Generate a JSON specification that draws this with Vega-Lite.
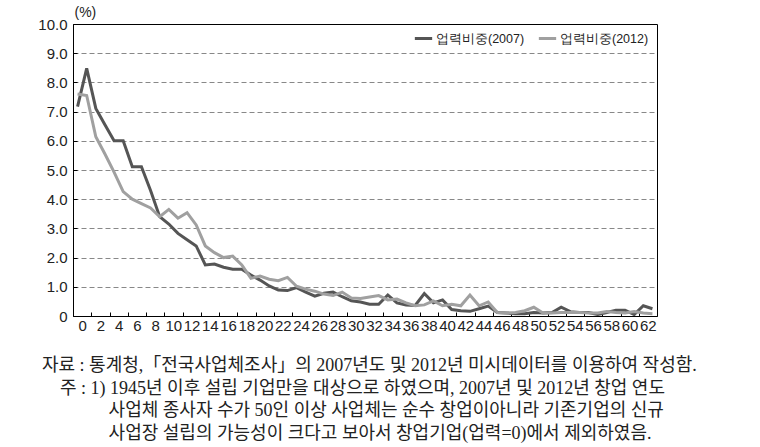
{
  "$schema": "https://vega.github.io/schema/vega-lite/v6.json",
  "autosize": "none",
  "width": 584,
  "height": 292,
  "padding": {"left": 73, "top": 24, "right": 103, "bottom": 131},
  "background": "white",
  "config": {
    "view": {"stroke": "#000", "strokeWidth": 1},
    "font": "Liberation Sans"
  },
  "title": {
    "text": [
      "자료 : 통계청,「전국사업체조사」의 2007년도 및 2012년 미시데이터를 이용하여 작성함.",
      "\u200b\u2003주 : 1) 1945년 이후 설립 기업만을 대상으로 하였으며, 2007년 및 2012년 창업 연도",
      "\u200b\u2003\u2003\u2003\u2002\u2009사업체 종사자 수가 50인 이상 사업체는 순수 창업이아니라 기존기업의 신규",
      "\u200b\u2003\u2003\u2003\u2002\u2009사업장 설립의 가능성이 크다고 보아서 창업기업(업력=0)에서 제외하였음."
    ],
    "orient": "bottom",
    "anchor": "start",
    "frame": "group",
    "dx": -31,
    "offset": 24,
    "font": "Liberation Serif, Noto Sans CJK KR",
    "fontSize": 18,
    "fontWeight": "normal",
    "color": "#222",
    "lineHeight": 22.5,
    "baseline": "top"
  },
  "data": {
    "values": [
      {"age": 0, "2007": 7.17, "2012": 7.6},
      {"age": 1, "2007": 8.48, "2012": 7.55},
      {"age": 2, "2007": 7.11, "2012": 6.14},
      {"age": 3, "2007": 6.55, "2012": 5.55},
      {"age": 4, "2007": 6.0, "2012": 4.93},
      {"age": 5, "2007": 6.0, "2012": 4.26},
      {"age": 6, "2007": 5.11, "2012": 4.0},
      {"age": 7, "2007": 5.11, "2012": 3.85},
      {"age": 8, "2007": 4.3, "2012": 3.7},
      {"age": 9, "2007": 3.4, "2012": 3.4},
      {"age": 10, "2007": 3.15, "2012": 3.65},
      {"age": 11, "2007": 2.83, "2012": 3.35},
      {"age": 12, "2007": 2.61, "2012": 3.54},
      {"age": 13, "2007": 2.4, "2012": 3.12},
      {"age": 14, "2007": 1.75, "2012": 2.4},
      {"age": 15, "2007": 1.78, "2012": 2.17},
      {"age": 16, "2007": 1.67, "2012": 2.0},
      {"age": 17, "2007": 1.6, "2012": 2.05},
      {"age": 18, "2007": 1.6, "2012": 1.75},
      {"age": 19, "2007": 1.4, "2012": 1.29},
      {"age": 20, "2007": 1.23, "2012": 1.37},
      {"age": 21, "2007": 1.03, "2012": 1.26},
      {"age": 22, "2007": 0.89, "2012": 1.21},
      {"age": 23, "2007": 0.87, "2012": 1.32},
      {"age": 24, "2007": 0.97, "2012": 1.02},
      {"age": 25, "2007": 0.82, "2012": 0.92},
      {"age": 26, "2007": 0.68, "2012": 0.85},
      {"age": 27, "2007": 0.78, "2012": 0.75},
      {"age": 28, "2007": 0.82, "2012": 0.7},
      {"age": 29, "2007": 0.66, "2012": 0.82},
      {"age": 30, "2007": 0.52, "2012": 0.62},
      {"age": 31, "2007": 0.48, "2012": 0.6},
      {"age": 32, "2007": 0.4, "2012": 0.65},
      {"age": 33, "2007": 0.4, "2012": 0.7},
      {"age": 34, "2007": 0.72, "2012": 0.55},
      {"age": 35, "2007": 0.45, "2012": 0.58},
      {"age": 36, "2007": 0.38, "2012": 0.45},
      {"age": 37, "2007": 0.36, "2012": 0.35},
      {"age": 38, "2007": 0.77, "2012": 0.38},
      {"age": 39, "2007": 0.45, "2012": 0.52},
      {"age": 40, "2007": 0.55, "2012": 0.35},
      {"age": 41, "2007": 0.22, "2012": 0.4},
      {"age": 42, "2007": 0.18, "2012": 0.35},
      {"age": 43, "2007": 0.16, "2012": 0.72},
      {"age": 44, "2007": 0.25, "2012": 0.35},
      {"age": 45, "2007": 0.34, "2012": 0.48},
      {"age": 46, "2007": 0.12, "2012": 0.12},
      {"age": 47, "2007": 0.1, "2012": 0.1},
      {"age": 48, "2007": 0.08, "2012": 0.12},
      {"age": 49, "2007": 0.08, "2012": 0.18},
      {"age": 50, "2007": 0.12, "2012": 0.3},
      {"age": 51, "2007": 0.1, "2012": 0.1},
      {"age": 52, "2007": 0.12, "2012": 0.1},
      {"age": 53, "2007": 0.3, "2012": 0.12},
      {"age": 54, "2007": 0.15, "2012": 0.12},
      {"age": 55, "2007": 0.12, "2012": 0.12},
      {"age": 56, "2007": 0.12, "2012": 0.1},
      {"age": 57, "2007": 0.05, "2012": 0.1},
      {"age": 58, "2007": 0.12, "2012": 0.15},
      {"age": 59, "2007": 0.2, "2012": 0.12},
      {"age": 60, "2007": 0.2, "2012": 0.1},
      {"age": 61, "2007": 0.05, "2012": 0.15},
      {"age": 62, "2007": 0.35, "2012": 0.1},
      {"age": 63, "2007": 0.25, "2012": 0.08}
    ]
  },
  "transform": [{"fold": ["2007", "2012"], "as": ["series", "share"]}],
  "mark": {"type": "line", "strokeWidth": 3, "strokeJoin": "miter", "clip": true},
  "encoding": {
    "x": {
      "field": "age",
      "type": "quantitative",
      "scale": {"domain": [-0.5, 63.5], "nice": false, "zero": false},
      "axis": {
        "title": null,
        "values": [0.5,1.5,2.5,3.5,4.5,5.5,6.5,7.5,8.5,9.5,10.5,11.5,12.5,13.5,14.5,15.5,16.5,17.5,18.5,19.5,20.5,21.5,22.5,23.5,24.5,25.5,26.5,27.5,28.5,29.5,30.5,31.5,32.5,33.5,34.5,35.5,36.5,37.5,38.5,39.5,40.5,41.5,42.5,43.5,44.5,45.5,46.5,47.5,48.5,49.5,50.5,51.5,52.5,53.5,54.5,55.5,56.5,57.5,58.5,59.5,60.5,61.5,62.5],
        "labelExpr": "floor(datum.value) % 2 == 0 ? '' + floor(datum.value) : ''",
        "tickOpacity": {"condition": {"test": "floor(datum.value) % 2 == 1", "value": 1}, "value": 0},
        "tickSize": -4,
        "tickColor": "#000",
        "tickWidth": 1,
        "domainColor": "#000",
        "grid": false,
        "labelFontSize": 15,
        "labelColor": "#222",
        "labelPadding": 6,
        "labelOverlap": false,
        "labelBound": false,
        "labelFlush": false
      }
    },
    "y": {
      "field": "share",
      "type": "quantitative",
      "scale": {"domain": [0, 10], "nice": false},
      "axis": {
        "title": "(%)",
        "titleAngle": 0,
        "titleAlign": "left",
        "titleBaseline": "bottom",
        "titleX": 1,
        "titleY": -5,
        "titleFontSize": 14,
        "titleFontWeight": "normal",
        "titleColor": "#222",
        "values": [0,1,2,3,4,5,6,7,8,9,10],
        "labelExpr": "datum.value == 0 ? '0' : format(datum.value, '.1f')",
        "labelFontSize": 15,
        "labelColor": "#222",
        "labelPadding": 10,
        "tickSize": -4,
        "tickColor": "#000",
        "domainColor": "#000",
        "grid": true,
        "gridDash": [5, 3],
        "gridColor": "#888",
        "gridOpacity": {"condition": {"test": "datum.value == 0 || datum.value == 10", "value": 0}, "value": 1}
      }
    },
    "color": {
      "field": "series",
      "type": "nominal",
      "scale": {"domain": ["2007", "2012"], "range": ["#555555", "#a0a0a0"]},
      "legend": {
        "title": null,
        "orient": "none",
        "legendX": 340,
        "legendY": 4,
        "direction": "horizontal",
        "labelExpr": "'업력비중(' + datum.label + ')'",
        "symbolType": "stroke",
        "symbolStrokeWidth": 3,
        "symbolSize": 300,
        "labelFontSize": 12.5,
        "labelColor": "#222",
        "columnPadding": 7,
        "labelOffset": 2
      }
    }
  }
}
